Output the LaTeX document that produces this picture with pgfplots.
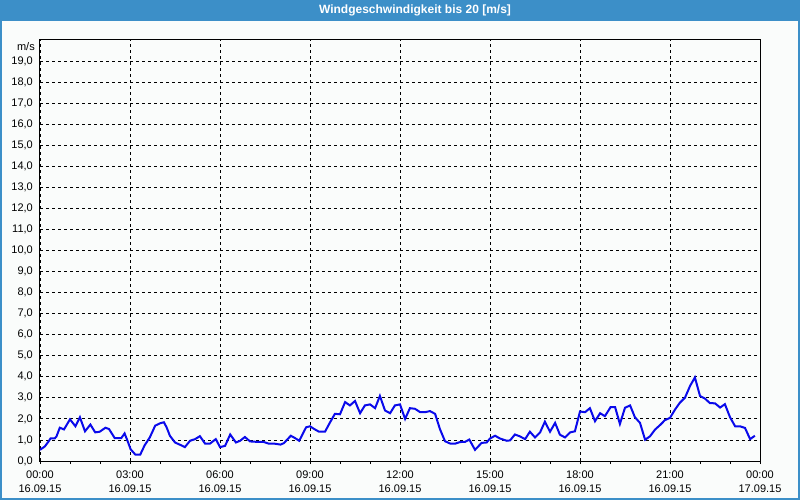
\documentclass[border=0pt]{standalone}
\usepackage{pgfplots}
\pgfplotsset{compat=1.18}
\usepackage{fontspec}
\setmainfont{Liberation Sans}
\definecolor{barblue}{RGB}{60,143,200}
\definecolor{bgc}{RGB}{250,252,251}
\definecolor{lineblue}{RGB}{10,10,235}
\begin{document}
\begin{tikzpicture}
\fill[bgc] (0bp,0bp) rectangle (800bp,500bp);
\useasboundingbox (0bp,0bp) rectangle (800bp,500bp);
\fill[barblue] (0bp,479bp) rectangle (800bp,500bp);
\draw[barblue, line width=2bp] (1bp,1bp) rectangle (799bp,499bp);
\node[white, font=\fontsize{12bp}{14bp}\selectfont\bfseries] at (415bp,489.5bp) {Windgeschwindigkeit bis 20 [m/s]};
\begin{axis}[
  at={(40bp,39bp)}, anchor=south west, scale only axis,
  width=720bp, height=421bp,
  xmin=0, xmax=24, ymin=0, ymax=20,
  axis line style={black, line width=1bp},
  xtick={0,3,...,24},
  minor xtick={1,2,4,5,7,8,10,11,13,14,16,17,19,20,22,23},
  xticklabels={{00:00\\16.09.15},{03:00\\16.09.15},{06:00\\16.09.15},{09:00\\16.09.15},{12:00\\16.09.15},{15:00\\16.09.15},{18:00\\16.09.15},{21:00\\16.09.15},{00:00\\17.09.15}},
  xtick pos=bottom, tick align=outside,
  major tick length=3bp, minor tick length=3bp,
  xtick style={black, line width=0.8bp},
  ytick={0,1,...,19},
  ytick style={draw=none},
  yticklabel={\pgfmathprintnumber[fixed,fixed zerofill,precision=1,use comma]{\tick}},
  /pgf/number format/assume math mode=true,
  ticklabel style={font=\fontsize{11bp}{14bp}\selectfont, inner sep=0pt},
  xticklabel style={align=center, anchor=north, yshift=-7bp},
  yticklabel style={anchor=east, xshift=-4bp},
  xmajorgrids, ymajorgrids,
  major grid style={black, line width=0.8bp, dash pattern=on 3bp off 3bp},
  clip=true,
]
\addplot[lineblue, line width=2bp] coordinates {
(0.0,0.53) (0.16,0.69) (0.27,0.9) (0.35,1.07) (0.49,1.07) (0.55,1.17) (0.66,1.58) (0.8,1.5)
(1.0,1.98) (1.18,1.65) (1.33,2.08) (1.5,1.41) (1.68,1.73) (1.84,1.36) (1.99,1.39) (2.18,1.58)
(2.3,1.52) (2.49,1.09) (2.71,1.09) (2.82,1.31) (2.93,0.91) (3.02,0.56) (3.18,0.30) (3.34,0.30)
(3.49,0.75) (3.66,1.12) (3.84,1.68) (4.0,1.79) (4.13,1.84) (4.22,1.6) (4.33,1.2) (4.5,0.88)
(4.67,0.77) (4.83,0.66) (5.0,0.96) (5.17,1.04) (5.33,1.18) (5.5,0.83) (5.67,0.83) (5.86,1.04)
(6.0,0.66) (6.17,0.72) (6.34,1.26) (6.53,0.88) (6.67,0.96) (6.83,1.14) (7.0,0.93) (7.22,0.91)
(7.44,0.91) (7.61,0.83) (7.83,0.82) (8.02,0.78) (8.13,0.85) (8.36,1.2) (8.5,1.09) (8.64,0.96)
(8.87,1.6) (9.0,1.65) (9.14,1.52) (9.3,1.39) (9.5,1.39) (9.67,1.84) (9.83,2.24) (10.0,2.22)
(10.17,2.8) (10.33,2.64) (10.5,2.85) (10.67,2.27) (10.83,2.64) (11.0,2.69) (11.17,2.51) (11.33,3.09)
(11.5,2.4) (11.67,2.27) (11.83,2.64) (12.0,2.69) (12.17,2.0) (12.33,2.51) (12.5,2.48) (12.67,2.32)
(12.83,2.32) (13.0,2.37) (13.17,2.24) (13.33,1.52) (13.5,0.94) (13.67,0.83) (13.83,0.82) (14.0,0.9)
(14.17,0.91) (14.31,1.02) (14.5,0.53) (14.72,0.86) (14.89,0.88) (15.0,1.07) (15.17,1.2) (15.33,1.07)
(15.56,0.96) (15.67,0.98) (15.83,1.26) (15.98,1.18) (16.17,1.04) (16.33,1.39) (16.5,1.12) (16.67,1.36)
(16.83,1.87) (17.0,1.39) (17.17,1.81) (17.33,1.25) (17.5,1.12) (17.67,1.36) (17.83,1.41) (18.0,2.35)
(18.17,2.32) (18.33,2.51) (18.5,1.89) (18.67,2.27) (18.83,2.13) (19.02,2.56) (19.17,2.56) (19.33,1.76)
(19.5,2.53) (19.67,2.64) (19.83,2.08) (20.0,1.81) (20.17,1.01) (20.33,1.17) (20.5,1.49) (20.67,1.71)
(20.83,1.94) (21.0,2.05) (21.17,2.45) (21.33,2.77) (21.5,3.01) (21.67,3.57) (21.83,3.97) (22.0,3.09)
(22.17,2.96) (22.33,2.75) (22.5,2.74) (22.67,2.54) (22.83,2.7) (23.0,2.08) (23.17,1.65) (23.33,1.65)
(23.5,1.57) (23.67,1.04) (23.83,1.2)
};
\end{axis}
\node[anchor=east, inner sep=0pt, font=\fontsize{11bp}{14bp}\selectfont] at (35bp,453.5bp) {m/s};
\end{tikzpicture}
\end{document}
